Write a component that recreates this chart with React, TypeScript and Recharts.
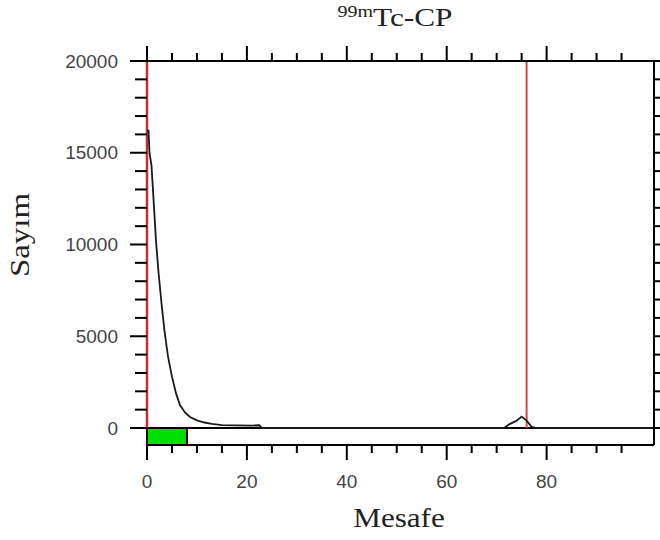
import React from "react";
import { ComposedChart, Line, XAxis, YAxis, ReferenceLine, ReferenceArea } from "recharts";

// distance (Mesafe) and counts (Sayım)
const distance = [0, 0.3, 0.5, 0.9, 1.3, 1.8, 2.3, 2.9, 3.5, 4.2, 5.0, 5.8, 6.6, 7.6, 8.6, 10, 11.5, 13, 15, 18, 21, 22.5, 23, 40, 60, 71.5, 72.5, 74, 75, 76, 77, 78, 90, 101.5];
const counts = [16200, 16200, 15000, 14300, 12500, 10200, 8500, 6800, 5300, 3900, 2800, 1900, 1250, 850, 600, 420, 300, 220, 160, 140, 130, 150, 0, 0, 0, 0, 200, 400, 620, 400, 60, 0, 0, 0];

const xTicks = [0, 5, 10, 15, 20, 25, 30, 35, 40, 45, 50, 55, 60, 65, 70, 75, 80, 85, 90, 95];
const yTicks = [0, 1000, 2000, 3000, 4000, 5000, 6000, 7000, 8000, 9000, 10000, 11000, 12000, 13000, 14000, 15000, 16000, 17000, 18000, 19000, 20000];
const originPeak = 0;
const frontPeak = 76;
const originBand = [0, 8];
const yMin = -926;

const data = distance.map((d, i) => ({ d, count: counts[i] }));

const tickFont = { fontFamily: "'Liberation Sans', Arial, sans-serif", fontSize: 19, fill: "#444" };

const LeftTick = (props: any) => {
  const { x, y, payload } = props;
  const major = payload.value % 5000 === 0;
  return (
    <g>
      <line x1={x - (major ? 17 : 12)} y1={y} x2={x} y2={y} stroke="#000" strokeWidth={2} />
      {major && (
        <text x={x - 29} y={y} textAnchor="end" dominantBaseline="central" {...tickFont}>
          {payload.value}
        </text>
      )}
    </g>
  );
};

const RightTick = (props: any) => {
  const { x, y } = props;
  return <line x1={x} y1={y} x2={x + 8} y2={y} stroke="#000" strokeWidth={2} />;
};

const BottomTick = (props: any) => {
  const { x, y, payload } = props;
  const major = payload.value % 20 === 0;
  return (
    <g>
      <line x1={x} y1={y} x2={x} y2={y + (major ? 15 : 8)} stroke="#000" strokeWidth={2} />
      {major && (
        <text x={x} y={y + 36} textAnchor="middle" dominantBaseline="central" {...tickFont}>
          {payload.value}
        </text>
      )}
    </g>
  );
};

const TopTick = (props: any) => {
  const { x, y, payload } = props;
  const major = payload.value % 20 === 0;
  return <line x1={x} y1={y - (major ? 15 : 8)} x2={x} y2={y} stroke="#000" strokeWidth={2} />;
};

const serif = "'Liberation Serif', 'Times New Roman', serif";

export default function App() {
  return (
    <div style={{ position: "absolute", left: 0, top: 0, width: 660, height: 540, background: "#fff" }}>
      <ComposedChart width={660} height={540} data={data} margin={{ top: 41, right: 0, bottom: 45, left: 87 }}>
        <XAxis xAxisId="b" dataKey="d" type="number" domain={[0, 101.5]} ticks={xTicks} interval={0} allowDataOverflow
          orientation="bottom" height={50} tickSize={0} tickMargin={0} tickLine={false} tick={<BottomTick />}
          axisLine={{ stroke: "#000", strokeWidth: 2 }} />
        <XAxis xAxisId="t" dataKey="d" type="number" domain={[0, 101.5]} ticks={xTicks} interval={0} allowDataOverflow
          orientation="top" height={20} tickSize={0} tickMargin={0} tickLine={false} tick={<TopTick />}
          axisLine={{ stroke: "#000", strokeWidth: 2 }} />
        <YAxis yAxisId="l" type="number" domain={[yMin, 20000]} ticks={yTicks} interval={0} allowDataOverflow
          orientation="left" width={60} tickSize={0} tickMargin={0} tickLine={false} tick={<LeftTick />}
          axisLine={false} />
        <YAxis yAxisId="r" type="number" domain={[yMin, 20000]} ticks={yTicks} interval={0} allowDataOverflow
          orientation="right" width={6} tickSize={0} tickMargin={0} tickLine={false} tick={<RightTick />}
          axisLine={{ stroke: "#000", strokeWidth: 2 }} />
        <ReferenceArea xAxisId="b" yAxisId="l" x1={originBand[0]} x2={originBand[1]} y1={yMin} y2={0}
          fill="#00e000" fillOpacity={1} stroke="#000" strokeWidth={2} />
        <ReferenceLine xAxisId="b" yAxisId="l" y={0} stroke="#000" strokeWidth={2} />
        <ReferenceLine xAxisId="b" yAxisId="l" segment={[{ x: originPeak, y: 0 }, { x: originPeak, y: 20000 }]}
          stroke="#c0302e" strokeWidth={2.5} />
        <ReferenceLine xAxisId="b" yAxisId="l" segment={[{ x: frontPeak, y: 0 }, { x: frontPeak, y: 20000 }]}
          stroke="#d04a48" strokeWidth={2} />
        <Line xAxisId="b" yAxisId="l" type="linear" dataKey="count" stroke="#1a1a1a" strokeWidth={1.8}
          dot={false} isAnimationActive={false} />
      </ComposedChart>
      <div style={{ position: "absolute", left: 395, top: 5, transform: "translateX(-50%) scaleX(1.25)", fontFamily: serif, fontSize: 25, lineHeight: "25px", color: "#222", whiteSpace: "nowrap" }}>
        <span style={{ fontSize: 16, position: "relative", top: -9 }}>99m</span>Tc-CP
      </div>
      <div style={{ position: "absolute", left: 399, top: 505, transform: "translateX(-50%) scaleX(1.15)", fontFamily: serif, fontSize: 27, lineHeight: "27px", color: "#222", whiteSpace: "nowrap" }}>
        Mesafe
      </div>
      <div style={{ position: "absolute", left: 20, top: 235, transform: "translate(-50%, -50%) rotate(-90deg) scaleX(1.22)", fontFamily: serif, fontSize: 27, lineHeight: "27px", color: "#222", whiteSpace: "nowrap" }}>
        Sayım
      </div>
    </div>
  );
}
